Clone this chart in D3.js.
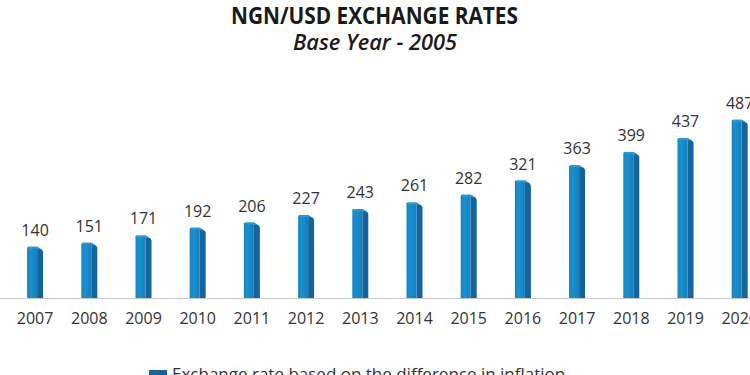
<!DOCTYPE html>
<html><head><meta charset="utf-8">
<script src="https://cdn.jsdelivr.net/npm/d3@7"></script>
<style>
html,body{margin:0;padding:0;background:#fff;overflow:hidden;}
svg{display:block;font-family:"Open Sans",sans-serif;}
</style></head>
<body>
<svg id="chart" width="750" height="375"></svg>
<script>
const years = ["2007","2008","2009","2010","2011","2012","2013","2014","2015","2016","2017","2018","2019","2020"];
const rates = [140,151,171,192,206,227,243,261,282,321,363,399,437,487];
const titleText = "NGN/USD EXCHANGE RATES";
const subtitleText = "Base Year - 2005";
const legendText = "Exchange rate based on the difference in inflation";

const svg = d3.select("#chart");
const W = 750, H = 375;
const baseY = 298;

const x = d3.scaleBand().domain(years).range([8, 8 + 54.2 * years.length]).paddingInner(0.7).paddingOuter(0.35);
const y = d3.scaleLinear().domain([0, 500]).range([baseY, baseY - 183]);

// Title
svg.append("text").attr("x", 231).attr("y", 24)
  .attr("font-size", 24).attr("font-weight", 700).attr("fill", "#1a1a1a")
  .attr("textLength", 287).attr("lengthAdjust", "spacingAndGlyphs")
  .text(titleText);
svg.append("text").attr("x", 293).attr("y", 50)
  .attr("font-size", 21).attr("font-style", "italic").attr("font-weight", 600).attr("fill", "#1a1a1a")
  .attr("textLength", 164).attr("lengthAdjust", "spacingAndGlyphs")
  .text(subtitleText);

// axis line
svg.append("line").attr("x1", 0).attr("x2", W).attr("y1", baseY + 0.5).attr("y2", baseY + 0.5)
  .attr("stroke", "#c9c9c9").attr("stroke-width", 1.2);

const defs = svg.append("defs");
const gFront = defs.append("linearGradient").attr("id", "gf").attr("x1", 0).attr("x2", 1).attr("y1", 0).attr("y2", 0);
gFront.append("stop").attr("offset", "0%").attr("stop-color", "#1584c3");
gFront.append("stop").attr("offset", "35%").attr("stop-color", "#1a90d0");
gFront.append("stop").attr("offset", "100%").attr("stop-color", "#157fbc");

const bw = 16, fw = 10;
const bars = svg.append("g").selectAll("g").data(years).join("g");
bars.each(function(yr, i) {
  const g = d3.select(this);
  const x0 = x(yr) + x.bandwidth() / 2 - bw / 2;
  const top = y(rates[i]);
  g.append("path")
    .attr("d", `M${x0 + fw},${top} L${x0 + bw - 1},${top + 3} L${x0 + bw},${top + 5} L${x0 + bw},${baseY} L${x0 + fw},${baseY} Z`)
    .attr("fill", "#14649d");
  g.append("path")
    .attr("d", `M${x0},${top + 1} L${x0 + 1},${top} L${x0 + fw},${top} L${x0 + fw},${baseY} L${x0},${baseY} Z`)
    .attr("fill", "url(#gf)");
  g.append("path")
    .attr("d", `M${x0 + 1},${top} L${x0 + fw},${top} L${x0 + bw - 1},${top + 3} L${x0 + fw - 1},${top + 2} L${x0 + 1},${top + 2} Z`)
    .attr("fill", "#2a9ad6").attr("opacity", 0.9);
});

// value labels
svg.append("g").selectAll("text").data(years).join("text")
  .attr("x", d => x(d) + x.bandwidth() / 2)
  .attr("y", (d, i) => y(rates[i]) - 11)
  .attr("text-anchor", "middle").attr("font-size", 16).attr("fill", "#333")
  .text((d, i) => rates[i]);

// year labels
svg.append("g").selectAll("text").data(years).join("text")
  .attr("x", d => x(d) + x.bandwidth() / 2)
  .attr("y", 324)
  .attr("text-anchor", "middle").attr("font-size", 16).attr("fill", "#333")
  .text(d => d);

// legend
svg.append("rect").attr("x", 149).attr("y", 370).attr("width", 18).attr("height", 10).attr("fill", "#14649d");
svg.append("text").attr("x", 172).attr("y", 380).attr("font-size", 17).attr("fill", "#333").text(legendText);
</script>
</body></html>
